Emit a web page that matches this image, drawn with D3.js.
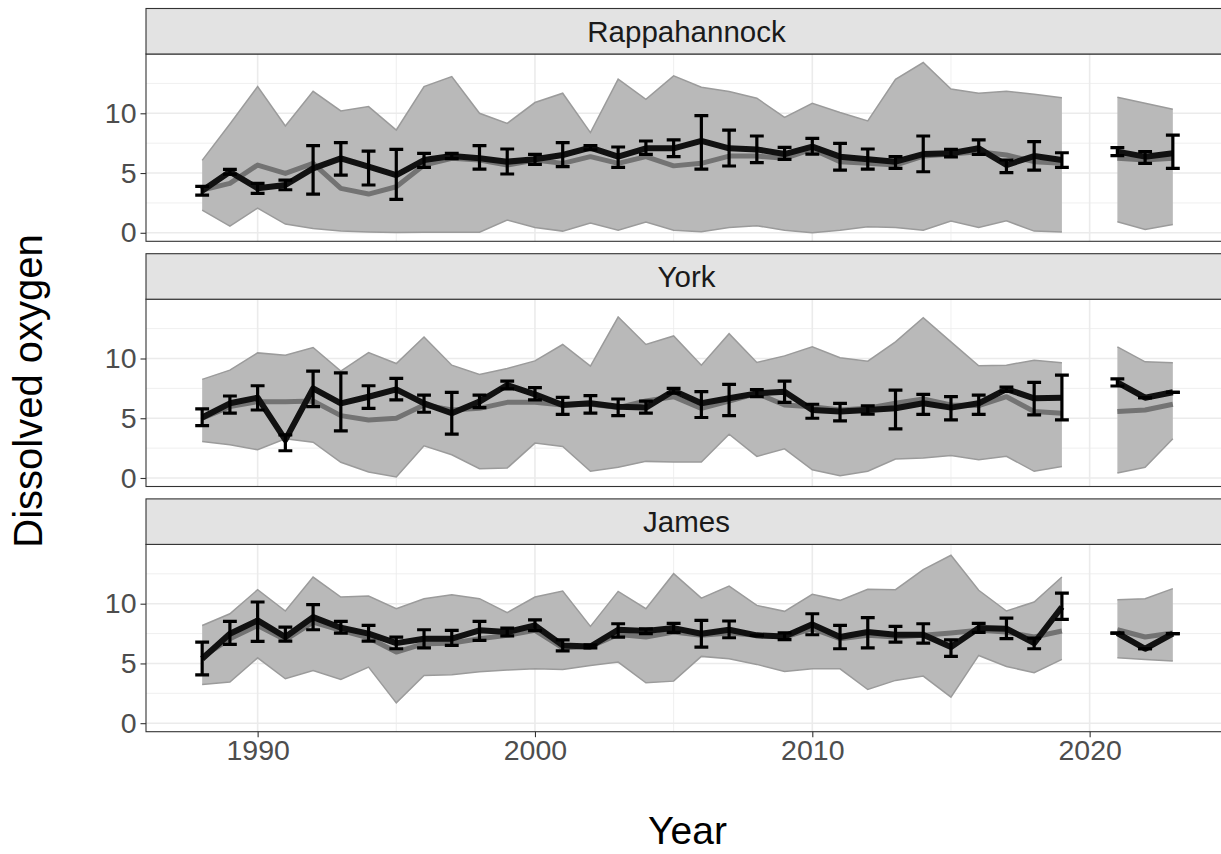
<!DOCTYPE html>
<html>
<head>
<meta charset="utf-8">
<script src="https://cdn.jsdelivr.net/npm/d3@7"></script>
<style>
  html, body { margin: 0; padding: 0; background: #fff; overflow: hidden; }
  svg { display: block; }
  text { font-family: "Liberation Sans", Arial, sans-serif; }
</style>
</head>
<body>
<svg id="chart" width="1221" height="854"></svg>
<script>
// ---------------- DATA ----------------
const rivers = ["Rappahannock", "York", "James"];
const years = [1988,1989,1990,1991,1992,1993,1994,1995,1996,1997,1998,1999,2000,2001,2002,2003,2004,2005,2006,2007,2008,2009,2010,2011,2012,2013,2014,2015,2016,2017,2018,2019,2021,2022,2023];

// Rappahannock
const rapMax = [6.06,9.1,12.23,8.94,11.84,10.2,10.56,8.6,12.23,13.07,10.0,9.16,10.9,11.68,8.38,12.85,11.17,13.13,12.18,11.82,11.26,9.66,10.84,10.06,9.36,12.85,14.25,12.04,11.68,11.84,11.59,11.31,11.34,10.84,10.34];
const rapMin = [1.9,0.56,2.07,0.73,0.36,0.14,0.06,0.03,0.05,0.05,0.05,1.06,0.45,0.14,0.81,0.22,0.9,0.22,0.08,0.45,0.59,0.22,0.0,0.22,0.5,0.45,0.22,0.98,0.45,1.0,0.14,0.06,0.92,0.28,0.7];
const rapMedian = [3.58,4.13,5.67,4.97,5.81,3.72,3.24,3.85,5.67,6.23,6.09,5.67,6.09,5.81,6.37,5.81,6.37,5.6,5.81,6.42,6.42,6.23,7.0,5.95,5.81,5.67,6.42,6.59,6.79,6.51,5.95,5.81,6.23,6.09,6.23];
const rapMean = [3.52,5.11,3.72,4.0,5.39,6.23,5.53,4.83,6.09,6.42,6.23,5.95,6.15,6.51,7.12,6.37,7.07,7.07,7.7,7.07,6.98,6.59,7.21,6.37,6.15,5.95,6.59,6.65,7.07,5.67,6.42,6.09,6.79,6.37,6.65];
const rapLo = [3.16,4.9,3.3,3.6,3.24,4.83,4.0,2.79,5.47,6.2,5.33,4.92,5.73,5.53,6.95,5.47,6.56,6.37,5.33,5.59,5.87,6.15,6.59,5.25,5.33,5.39,5.11,6.35,6.56,5.03,5.25,5.47,6.45,5.81,5.39];
const rapHi = [3.88,5.3,4.14,4.4,7.29,7.54,6.84,6.98,6.65,6.65,7.29,7.01,6.56,7.54,7.3,7.18,7.68,7.77,9.8,8.6,8.1,7.15,7.9,7.49,7.01,6.37,8.1,6.98,7.77,6.09,7.63,6.7,7.12,6.79,8.18];

// York
const yorMax = [8.25,9.03,10.47,10.28,10.92,8.94,10.5,9.58,11.8,9.44,8.67,9.17,9.8,11.17,9.36,13.47,11.17,11.89,9.44,12.08,9.67,10.22,10.97,10.06,9.78,11.39,13.42,11.39,9.39,9.44,9.86,9.64,10.97,9.72,9.64];
const yorMin = [3.06,2.78,2.36,3.28,3.0,1.31,0.5,0.08,2.69,1.94,0.78,0.83,2.92,2.64,0.56,0.89,1.39,1.33,1.33,3.67,1.81,2.44,0.69,0.19,0.56,1.58,1.67,1.89,1.53,1.81,0.56,0.97,0.42,0.89,3.28];
const yorMedian = [5.0,5.97,6.39,6.39,6.44,5.22,4.86,5.0,6.11,5.69,5.83,6.33,6.33,6.11,6.17,5.89,6.44,6.8,5.83,6.44,7.08,6.11,5.97,5.69,5.83,6.25,6.61,6.11,6.06,6.8,5.56,5.42,5.56,5.69,6.17];
const yorMean = [5.06,6.25,6.72,3.19,7.5,6.25,6.8,7.42,6.25,5.42,6.39,7.78,7.0,6.11,6.25,5.97,5.89,7.3,6.25,6.67,7.08,7.22,5.69,5.56,5.69,5.83,6.25,5.89,6.25,7.44,6.67,6.72,8.0,6.72,7.17];
const yorLo = [4.39,5.42,5.69,2.28,5.97,3.94,5.83,6.53,5.5,3.67,5.89,7.45,6.53,5.33,5.42,5.22,5.42,7.1,5.06,5.22,6.8,6.33,5.0,4.78,5.35,4.11,5.33,4.86,5.33,7.25,5.28,4.86,7.7,6.72,7.17];
const yorHi = [5.78,6.86,7.72,3.61,8.94,8.8,7.72,8.33,6.94,7.17,6.94,8.1,7.56,6.75,6.89,6.61,6.44,7.5,7.22,7.83,7.4,8.11,6.17,6.25,6.03,7.36,7.0,6.81,6.94,7.6,8.0,8.61,8.3,6.72,7.17];

// James
const jamMax = [8.18,9.16,11.17,9.39,12.23,10.56,10.64,9.58,10.42,10.75,10.42,9.25,10.56,11.06,8.1,11.03,9.58,12.51,10.47,11.48,9.86,9.36,10.78,10.28,11.2,11.17,12.85,14.05,11.12,9.39,10.14,12.23,10.34,10.42,11.26];
const jamMin = [3.24,3.44,5.47,3.72,4.41,3.66,4.69,1.7,4.0,4.05,4.3,4.45,4.55,4.5,4.83,5.11,3.38,3.52,5.59,5.39,4.92,4.33,4.55,4.55,2.82,3.58,3.94,2.18,5.67,4.75,4.22,5.34,5.47,5.34,5.2];
const jamMedian = [5.53,7.07,8.18,6.98,8.46,7.77,7.15,5.95,6.65,6.7,7.07,7.35,7.77,6.31,6.42,7.43,7.21,7.63,7.35,7.54,7.35,7.21,7.91,7.07,7.35,7.21,7.35,7.54,7.77,7.63,7.21,7.71,7.82,7.21,7.54];
const jamMean = [5.39,7.49,8.6,7.21,8.88,7.99,7.49,6.7,7.07,7.07,7.77,7.63,8.18,6.51,6.42,7.82,7.71,7.96,7.49,7.82,7.35,7.26,8.27,7.21,7.63,7.4,7.4,6.37,7.96,7.91,6.7,9.72,7.54,6.23,7.49];
const jamLo = [4.05,6.59,6.84,6.87,7.82,7.54,6.87,6.23,6.31,6.51,6.93,7.3,7.75,6.05,6.3,7.21,7.5,7.6,6.37,7.15,7.35,7.0,7.4,6.23,6.31,6.79,6.7,5.59,7.6,7.07,6.23,8.69,7.54,6.23,7.49];
const jamHi = [6.79,8.52,10.14,8.04,9.92,8.52,8.18,7.21,7.82,7.77,8.52,7.95,8.65,6.97,6.55,8.32,7.9,8.35,8.6,8.55,7.35,7.55,9.16,8.18,8.83,8.1,8.32,6.98,8.35,8.8,7.12,10.89,7.54,6.23,7.49];

const xTicks = [1990, 2000, 2010, 2020];
const xMinor = [1995, 2005, 2015, 2025];
const yTicks = [0, 5, 10];
const yMinor = [2.5, 7.5, 12.5];
const xTitle = "Year";
const yTitle = "Dissolved oxygen";

// ---------------- LAYOUT ----------------
const seriesByRiver = {
  "Rappahannock": {max: rapMax, min: rapMin, median: rapMedian, mean: rapMean, lo: rapLo, hi: rapHi},
  "York": {max: yorMax, min: yorMin, median: yorMedian, mean: yorMean, lo: yorLo, hi: yorHi},
  "James": {max: jamMax, min: jamMin, median: jamMedian, mean: jamMean, lo: jamLo, hi: jamHi}
};

const svg = d3.select("#chart");
const panelLeft = 146, panelRight = 1229;
const stripTop0 = 8.5, stepY = 245.2, stripH = 45.5, panelH = 187.3;
const errW = 0.25;

const x = d3.scaleLinear().domain([1985.975, 2025.025]).range([panelLeft, panelRight]);

const allVals = [];
rivers.forEach(r => { const s = seriesByRiver[r]; allVals.push(...s.max, ...s.min, ...s.lo, ...s.hi); });
const yMinD = d3.min(allVals), yMaxD = d3.max(allVals);
const pad = (yMaxD - yMinD) * 0.05;

function segments() {
  const segs = [];
  let cur = [];
  years.forEach((yr, i) => {
    if (cur.length && yr - years[i - 1] > 1) { segs.push(cur); cur = []; }
    cur.push(i);
  });
  if (cur.length) segs.push(cur);
  return segs;
}
const segs = segments();

rivers.forEach((river, pi) => {
  const s = seriesByRiver[river];
  const stripTop = stripTop0 + pi * stepY;
  const pTop = stripTop + stripH;
  const pBot = pTop + panelH;
  const y = d3.scaleLinear().domain([yMinD - pad, yMaxD + pad]).range([pBot, pTop]);

  const g = svg.append("g");
  const clipId = "clip" + pi;
  svg.append("clipPath").attr("id", clipId).append("rect")
    .attr("x", panelLeft).attr("y", pTop).attr("width", panelRight - panelLeft).attr("height", panelH);

  g.append("rect").attr("x", panelLeft).attr("y", pTop).attr("width", panelRight - panelLeft).attr("height", panelH).attr("fill", "#fff");

  const grid = g.append("g").attr("clip-path", `url(#${clipId})`);
  yMinor.forEach(v => grid.append("line").attr("x1", panelLeft).attr("x2", panelRight).attr("y1", y(v)).attr("y2", y(v)).attr("stroke", "#ebebeb").attr("stroke-width", 0.8));
  xMinor.forEach(v => grid.append("line").attr("y1", pTop).attr("y2", pBot).attr("x1", x(v)).attr("x2", x(v)).attr("stroke", "#ebebeb").attr("stroke-width", 0.8));
  yTicks.forEach(v => grid.append("line").attr("x1", panelLeft).attr("x2", panelRight).attr("y1", y(v)).attr("y2", y(v)).attr("stroke", "#ebebeb").attr("stroke-width", 1.6));
  xTicks.forEach(v => grid.append("line").attr("y1", pTop).attr("y2", pBot).attr("x1", x(v)).attr("x2", x(v)).attr("stroke", "#ebebeb").attr("stroke-width", 1.6));

  const data = years.map((yr, i) => ({yr, max: s.max[i], min: s.min[i], median: s.median[i], mean: s.mean[i], lo: s.lo[i], hi: s.hi[i]}));

  const marks = g.append("g").attr("clip-path", `url(#${clipId})`);
  const area = d3.area().x(d => x(d.yr)).y0(d => y(d.min)).y1(d => y(d.max));
  const upper = d3.line().x(d => x(d.yr)).y(d => y(d.max));
  const lower = d3.line().x(d => x(d.yr)).y(d => y(d.min));
  const medLine = d3.line().x(d => x(d.yr)).y(d => y(d.median));
  const meanLine = d3.line().x(d => x(d.yr)).y(d => y(d.mean));

  segs.forEach(idx => {
    const sd = idx.map(i => data[i]);
    marks.append("path").attr("d", area(sd)).attr("fill", "#b9b9b9").attr("stroke", "none");
    marks.append("path").attr("d", upper(sd)).attr("fill", "none").attr("stroke", "#9b9b9b").attr("stroke-width", 1.5);
    marks.append("path").attr("d", lower(sd)).attr("fill", "none").attr("stroke", "#9b9b9b").attr("stroke-width", 1.5);
  });
  segs.forEach(idx => {
    const sd = idx.map(i => data[i]);
    marks.append("path").attr("d", medLine(sd)).attr("fill", "none").attr("stroke", "#737373").attr("stroke-width", 5).attr("stroke-linejoin", "round");
  });
  segs.forEach(idx => {
    const sd = idx.map(i => data[i]);
    marks.append("path").attr("d", meanLine(sd)).attr("fill", "none").attr("stroke", "#111111").attr("stroke-width", 6).attr("stroke-linejoin", "round");
  });
  const eb = marks.append("g").attr("stroke", "#000").attr("stroke-width", 3.2).attr("fill", "none");
  data.forEach(d => {
    eb.append("line").attr("x1", x(d.yr)).attr("x2", x(d.yr)).attr("y1", y(d.lo)).attr("y2", y(d.hi));
    eb.append("line").attr("x1", x(d.yr - errW)).attr("x2", x(d.yr + errW)).attr("y1", y(d.lo)).attr("y2", y(d.lo));
    eb.append("line").attr("x1", x(d.yr - errW)).attr("x2", x(d.yr + errW)).attr("y1", y(d.hi)).attr("y2", y(d.hi));
  });

  g.append("rect").attr("x", panelLeft).attr("y", pTop).attr("width", panelRight - panelLeft).attr("height", panelH)
    .attr("fill", "none").attr("stroke", "#333333").attr("stroke-width", 1.1);

  g.append("rect").attr("x", panelLeft).attr("y", stripTop).attr("width", panelRight - panelLeft).attr("height", stripH)
    .attr("fill", "#e3e3e3").attr("stroke", "#333333").attr("stroke-width", 1.1);
  g.append("text").attr("x", (panelLeft + panelRight) / 2 - 1).attr("y", stripTop + stripH / 2)
    .attr("text-anchor", "middle").attr("dominant-baseline", "central")
    .attr("font-size", 29.5).attr("fill", "#1a1a1a").text(river);

  const yAxis = d3.axisLeft(y).tickValues(yTicks).tickSize(5.5).tickPadding(4).tickFormat(d3.format("d"));
  const ya = g.append("g").attr("transform", `translate(${panelLeft},0)`).call(yAxis);
  ya.select(".domain").remove();
  ya.selectAll(".tick line").attr("stroke", "#333333").attr("stroke-width", 1.1);
  ya.selectAll(".tick text").attr("font-size", 28.5).attr("fill", "#4d4d4d").attr("font-family", "Liberation Sans, Arial, sans-serif");

  if (pi === rivers.length - 1) {
    const xAxis = d3.axisBottom(x).tickValues(xTicks).tickSize(5.5).tickPadding(3).tickFormat(d3.format("d"));
    const xa = g.append("g").attr("transform", `translate(0,${pBot})`).call(xAxis);
    xa.select(".domain").remove();
    xa.selectAll(".tick line").attr("stroke", "#333333").attr("stroke-width", 1.1);
    xa.selectAll(".tick text").attr("font-size", 28.5).attr("fill", "#4d4d4d").attr("font-family", "Liberation Sans, Arial, sans-serif");
  }
});

svg.append("text").attr("x", (panelLeft + panelRight) / 2).attr("y", 844)
  .attr("text-anchor", "middle").attr("font-size", 39).attr("fill", "#000").text(xTitle);
svg.append("text").attr("transform", "translate(42,391) rotate(-90)")
  .attr("text-anchor", "middle").attr("font-size", 40).attr("fill", "#000").text(yTitle);
</script>
</body>
</html>
